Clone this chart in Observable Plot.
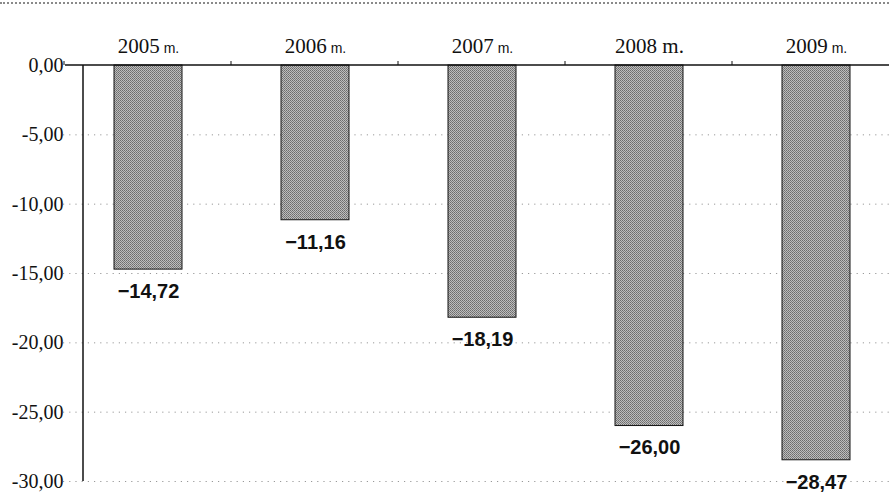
<!DOCTYPE html>
<html>
<head>
<meta charset="utf-8">
<script src="https://cdn.jsdelivr.net/npm/d3@7"></script>
<script src="https://cdn.jsdelivr.net/npm/@observablehq/plot@0.6"></script>
<style>
  body { margin: 0; background: #fff; }
  #chart { position: relative; width: 889px; height: 495px; overflow: hidden; }
  #edge { position: absolute; left: 0; top: 2px; width: 889px; border-top: 2px dotted #8a8a8a; z-index: 1; }
</style>
</head>
<body>
<div id="chart"><div id="edge"></div></div>
<script>
// Annual balance by year
const years = ["2005", "2006", "2007", "2008", "2009"];
const yearSuffix = ["m.", "m.", "m.", "m.", "m."];
const balances = [-14.72, -11.16, -18.19, -26.00, -28.47];
const yTicks = [0, -5, -10, -15, -20, -25, -30];

const rows = years.map((year, i) => ({year, value: balances[i]}));

// number formatting with a decimal comma
const fmt2 = v => Math.abs(v).toFixed(2).replace(".", ",");
const valueLabel = v => (v < 0 ? "\u2212" : "") + fmt2(v);
const tickLabel = v => (v < 0 ? "-" : "") + fmt2(v);

const W = 889, H = 495;
const xRange = [64, 899];
const padInner = 0.593;
const serif = "'Liberation Serif', 'Times New Roman', serif";
const sans = "'Liberation Sans', Arial, sans-serif";
const narrow = "'Liberation Sans Narrow', 'Liberation Sans', Arial, sans-serif";
// labels whose suffix is set in the same serif face as the year
const serifSuffix = new Set(["2008"]);

// axis lines, plus a small tick at the left edge of each year's band
const axisLines = (index, scales, values, dims) => {
  const g = d3.create("svg:g").attr("stroke", "#111").attr("fill", "none");
  const y0 = scales.y(0), yMin = scales.y(-30);
  g.append("line").attr("x1", dims.marginLeft).attr("x2", dims.marginLeft)
    .attr("y1", y0).attr("y2", yMin).attr("stroke-width", 1.5);
  g.append("line").attr("x1", xRange[0] + 1).attr("x2", dims.width)
    .attr("y1", y0).attr("y2", y0).attr("stroke-width", 1.5);
  const step = (xRange[1] - xRange[0]) / years.length;
  years.forEach((yr, i) => {
    const bx = xRange[0] + i * step;
    g.append("line").attr("x1", bx).attr("x2", bx)
      .attr("y1", y0).attr("y2", y0 - 4).attr("stroke-width", 1);
  });
  return g.node();
};

const plot = Plot.plot({
  width: W,
  height: H,
  marginTop: 65,
  marginBottom: 14,
  marginLeft: 83,
  marginRight: 0,
  style: {fontFamily: serif, fontSize: "20px", color: "#111", background: "#fff", overflow: "visible"},
  x: {domain: years, range: xRange, paddingInner: padInner, paddingOuter: padInner / 2, label: null},
  y: {domain: [-30, 0], label: null},
  marks: [
    Plot.gridY(yTicks.filter(t => t !== 0), {stroke: "#555", strokeOpacity: 0.6, strokeDasharray: "1.2,5", insetLeft: -20}),
    Plot.barY(rows, {x: "year", y: "value", fill: "url(#stipple)", stroke: "#151515", strokeWidth: 1}),
    Plot.text(rows, {x: "year", y: "value", text: d => valueLabel(d.value), dy: 22, fontSize: 20, fontWeight: "bold", fontFamily: sans, fill: "#111"}),
    Plot.axisY(yTicks, {anchor: "left", tickSize: 0, tickPadding: 20, tickFormat: tickLabel, fontSize: 20, fontFamily: serif, label: null}),
    Plot.axisX({anchor: "top", tickSize: 0, tickPadding: 13, tickFormat: d => d, fontSize: 21, fontFamily: serif, label: null}),
    axisLines
  ]
});

const svg = d3.select(plot);
// fine halftone fill for the bars
const defs = svg.insert("defs", ":first-child");
const pat = defs.append("pattern").attr("id", "stipple")
  .attr("patternUnits", "userSpaceOnUse").attr("width", 2).attr("height", 2);
pat.append("rect").attr("width", 2).attr("height", 2).attr("fill", "#bdbdbd");
pat.append("rect").attr("width", 1).attr("height", 1).attr("fill", "#6c6c6c");
pat.append("rect").attr("x", 1).attr("y", 1).attr("width", 1).attr("height", 1).attr("fill", "#7c7c7c");

// year labels get their "m." suffix
svg.selectAll('g[aria-label="x-axis tick label"] text').each(function () {
  const t = d3.select(this);
  const yr = t.text();
  const i = years.indexOf(yr);
  if (i < 0) return;
  t.text(null);
  t.append("tspan").text(yr);
  const s = t.append("tspan").text("\u00a0" + yearSuffix[i]);
  if (!serifSuffix.has(yr)) s.attr("font-family", narrow).attr("font-size", 14);
});

document.getElementById("chart").insertBefore(plot, document.getElementById("edge"));
</script>
</body>
</html>
